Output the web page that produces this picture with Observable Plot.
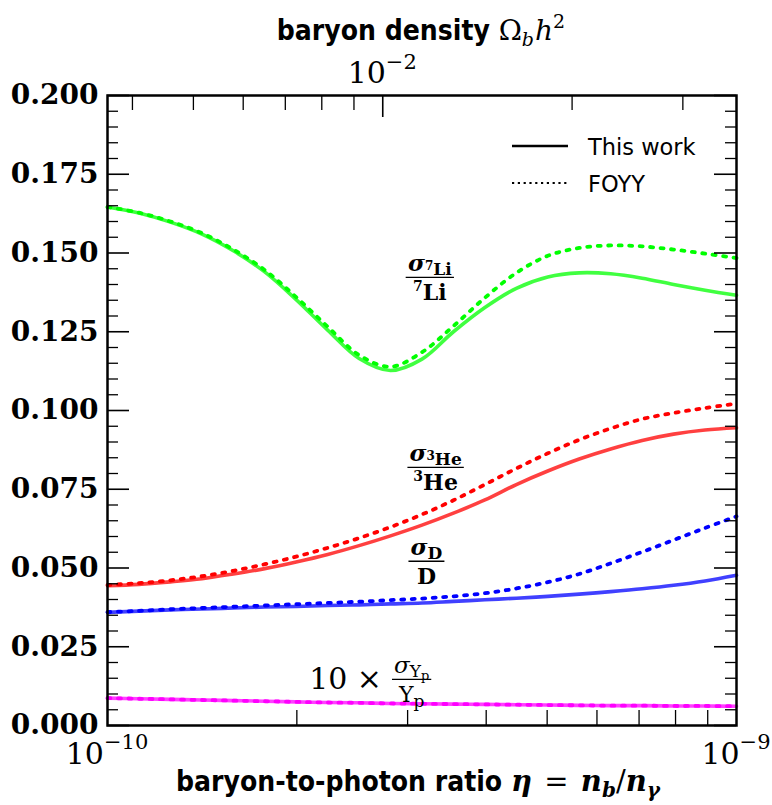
<!DOCTYPE html>
<html><head><meta charset="utf-8">
<script src="https://cdn.jsdelivr.net/npm/d3@7"></script>
<script src="https://cdn.jsdelivr.net/npm/@observablehq/plot@0.6"></script>
<style>
html,body{margin:0;padding:0;background:#fff;}
#chart{width:772px;height:805px;}
</style></head><body><div id="chart"></div>
<script>
// ---- data (eta in units of 1e-10) ----
const eta10 = [1.000,1.122,1.259,1.413,1.585,1.778,1.995,2.239,2.512,2.818,3.162,3.548,3.981,4.467,5.012,5.623,6.310,7.079,7.943,8.913,10.000];
const li7This = [0.1646,0.1627,0.1598,0.1560,0.1507,0.1440,0.1352,0.1255,0.1165,0.1127,0.1163,0.1250,0.1327,0.1388,0.1424,0.1437,0.1434,0.1420,0.1400,0.1382,0.1366];
const li7FOYY = [0.1646,0.1628,0.1600,0.1563,0.1511,0.1446,0.1360,0.1266,0.1176,0.1139,0.1185,0.1268,0.1358,0.1437,0.1491,0.1516,0.1524,0.1521,0.1511,0.1498,0.1484];
const he3This = [0.0444,0.0448,0.0456,0.0466,0.0481,0.0498,0.0519,0.0543,0.0571,0.0602,0.0636,0.0674,0.0716,0.0765,0.0808,0.0846,0.0878,0.0905,0.0925,0.0938,0.0945];
const he3FOYY = [0.0446,0.0452,0.0461,0.0474,0.0491,0.0512,0.0536,0.0564,0.0595,0.0630,0.0670,0.0715,0.0765,0.0816,0.0864,0.0907,0.0943,0.0973,0.0992,0.1008,0.1022];
const dThis = [0.0359,0.0363,0.0367,0.0370,0.0373,0.0376,0.0378,0.0381,0.0383,0.0386,0.0389,0.0394,0.0399,0.0404,0.0410,0.0417,0.0425,0.0434,0.0445,0.0459,0.0477];
const dFOYY = [0.0360,0.0364,0.0369,0.0373,0.0377,0.0381,0.0385,0.0389,0.0393,0.0398,0.0403,0.0410,0.0420,0.0435,0.0455,0.0481,0.0515,0.0551,0.0589,0.0627,0.0664];
const ypThis = [0.0087,0.0085,0.0083,0.0081,0.0079,0.0077,0.0075,0.0073,0.0072,0.0070,0.0069,0.0068,0.0067,0.0066,0.0065,0.0064,0.0063,0.0063,0.0062,0.0062,0.0061];
const ypFOYY = [0.0087,0.0085,0.0083,0.0081,0.0079,0.0077,0.0075,0.0073,0.0072,0.0070,0.0069,0.0068,0.0067,0.0066,0.0065,0.0064,0.0063,0.0063,0.0062,0.0062,0.0061];

// ---- ticks ----
const yMajorTicks = [0,0.025,0.05,0.075,0.1,0.125,0.15,0.175,0.2];
const yMinorTicks = [0.005,0.01,0.015,0.02,0.03,0.035,0.04,0.045,0.055,0.06,0.065,0.07,0.08,0.085,0.09,0.095,0.105,0.11,0.115,0.12,0.13,0.135,0.14,0.145,0.155,0.16,0.165,0.17,0.18,0.185,0.19,0.195];
const xMajorTicks = [1e-10,1e-9];
const xMajorLabels = ["\u221210","\u22129"];
const xMinorTicks = [2e-10,3e-10,4e-10,5e-10,6e-10,7e-10,8e-10,9e-10];
const omegaMinorTicks = [0.004,0.005,0.006,0.007,0.008,0.009,0.02,0.03];
const omegaMajorTicks = [0.01];
const omegaMajorLabels = ["\u22122"];
const etaPerOmega = 273.9e-10; // eta = 273.9e-10 * Omega_b h^2

// ---- build table ----
const series = [
  {key:"Li", kind:"This work", color:"#00ff00", values:li7This},
  {key:"Li", kind:"FOYY", color:"#00ff00", values:li7FOYY},
  {key:"He", kind:"This work", color:"#ff0000", values:he3This},
  {key:"He", kind:"FOYY", color:"#ff0000", values:he3FOYY},
  {key:"D", kind:"This work", color:"#0000ff", values:dThis},
  {key:"D", kind:"FOYY", color:"#0000ff", values:dFOYY},
  {key:"Yp", kind:"This work", color:"#ff00ff", values:ypThis},
  {key:"Yp", kind:"FOYY", color:"#ff00ff", values:ypFOYY}
];
const rows = [];
for (const s of series) s.values.forEach((v,i)=>rows.push({series:s.key+"-"+s.kind, key:s.key, kind:s.kind, color:s.color, eta:eta10[i]*1e-10, v}));
const solidRows = rows.filter(d=>d.kind==="This work");
const dotRows = rows.filter(d=>d.kind==="FOYY");

const W = 772, H = 805, mL = 107, mR = 36, mT = 95, mB = 80;
const innerW = W-mL-mR, innerH = H-mT-mB;
const serif = "'DejaVu Serif', serif";
const sansC = "'DejaVu Sans Condensed', 'DejaVu Sans', sans-serif";

const plot = Plot.plot({
  width: W, height: H,
  marginLeft: mL, marginRight: mR, marginTop: mT, marginBottom: mB,
  x: {type:"log", domain:[1e-10,1e-9], axis:null},
  y: {domain:[0,0.2], axis:null},
  style: {background:"#fff"},
  marks: [
    Plot.line(solidRows, {x:"eta", y:"v", z:"series", stroke:"color", strokeWidth:3.6, strokeOpacity:0.75, curve:"catmull-rom"}),
    Plot.line(dotRows, {x:"eta", y:"v", z:"series", stroke:"color", strokeWidth:3.8, strokeDasharray:"3,7.5", curve:"catmull-rom"}),
    // y ticks (inward), left and right
    Plot.tickY(yMajorTicks, {y:d=>d, stroke:"#000", strokeWidth:1.6, insetRight:innerW-22}),
    Plot.tickY(yMajorTicks, {y:d=>d, stroke:"#000", strokeWidth:1.6, insetLeft:innerW-22}),
    Plot.tickY(yMinorTicks, {y:d=>d, stroke:"#000", strokeWidth:1.3, insetRight:innerW-11}),
    Plot.tickY(yMinorTicks, {y:d=>d, stroke:"#000", strokeWidth:1.3, insetLeft:innerW-11}),
    // x ticks bottom
    Plot.tickX(xMinorTicks, {x:d=>d, stroke:"#000", strokeWidth:1.3, insetTop:innerH-15}),
    // top axis (Omega_b h^2)
    Plot.tickX(omegaMinorTicks, {x:d=>d*etaPerOmega, stroke:"#000", strokeWidth:1.3, insetBottom:innerH-15}),
    Plot.tickX(omegaMajorTicks, {x:d=>d*etaPerOmega, stroke:"#000", strokeWidth:1.6, insetBottom:innerH-22}),
    Plot.frame({stroke:"#000", strokeWidth:2.5}),
    // y tick labels
    Plot.text(yMajorTicks, {y:d=>d, text:d=>d3.format(".3f")(d), frameAnchor:"left", textAnchor:"end", dx:-9, dy:0,
      fontFamily:serif, fontWeight:"bold", fontSize:28, fill:"#000"})
  ]
});
document.getElementById("chart").appendChild(plot);

const sx = plot.scale("x"), sy = plot.scale("y");
const svg = d3.select(plot);
const g = svg.append("g").attr("class","math");

// rich text helper: parts = [{t, size, shift, style, weight, family}]
function rich(parent, x, y, parts, anchor="middle") {
  const t = parent.append("text").attr("x", x).attr("y", y).attr("text-anchor", anchor).attr("fill","#000");
  let cur = 0;
  for (const p of parts) {
    const sh = p.shift || 0;
    const ts = t.append("tspan").text(p.t)
      .attr("dy", (sh - cur))
      .attr("font-size", p.size)
      .attr("font-family", p.family || serif)
      .attr("font-style", p.style || "normal")
      .attr("font-weight", p.weight || "normal");
    if (p.stretch) ts.attr("font-stretch", p.stretch);
    if (p.dx) ts.attr("dx", p.dx);
    cur = sh;
  }
  return t;
}

// fraction helper
function frac(parent, cx, barY, num, den, lw=1.4) {
  const n = rich(parent, cx, barY-6, num);
  const d = rich(parent, cx, barY+23, den);
  const w = Math.max(n.node().getBBox().width, d.node().getBBox().width) + 4;
  parent.append("line").attr("x1", cx-w/2).attr("x2", cx+w/2).attr("y1", barY).attr("y2", barY)
    .attr("stroke","#000").attr("stroke-width", lw);
  return w;
}

// title top
rich(g, 421, 40, [
  {t:"baryon density ", size:28, weight:"bold", family:sansC, stretch:"condensed"},
  {t:"\u03A9", size:28},
  {t:"b", size:19, style:"italic", shift:6},
  {t:"h", size:28, style:"italic", shift:0, dx:1},
  {t:"2", size:19, shift:-12}
]);
// top major tick label
omegaMajorTicks.forEach((o,i)=>{
  rich(g, sx.apply(o*etaPerOmega), 83, [
    {t:"10", size:30},
    {t:omegaMajorLabels[i], size:21, shift:-14}
  ]);
});
// bottom tick labels
xMajorTicks.forEach((e,i)=>{
  rich(g, sx.apply(e), 764, [
    {t:"10", size:30},
    {t:xMajorLabels[i], size:21, shift:-15}
  ]);
});
// bottom title
rich(g, 418, 791, [
  {t:"baryon-to-photon ratio ", size:28, weight:"bold", family:sansC, stretch:"condensed"},
  {t:"\u03B7", size:29, style:"italic", weight:"bold"},
  {t:" = ", size:29, dx:3},
  {t:"n", size:29, style:"italic", weight:"bold", dx:3},
  {t:"b", size:20, style:"italic", weight:"bold", shift:6},
  {t:"/", size:29, shift:0},
  {t:"n", size:29, style:"italic", weight:"bold"},
  {t:"\u03B3", size:20, style:"italic", weight:"bold", shift:6}
]);

// curve labels (positions in data coordinates)
const labelLi = {eta:3.26e-10, v:0.1421};
const labelHe = {eta:3.33e-10, v:0.0818};
const labelD = {eta:3.22e-10, v:0.0520};
const labelYp = {eta:3.05e-10, v:0.0145};

frac(g, sx.apply(labelLi.eta), sy.apply(labelLi.v),
  [{t:"\u03C3", size:23, style:"italic", weight:"bold"},{t:"7", size:12, weight:"bold", shift:-1},{t:"Li", size:17, weight:"bold", shift:4}],
  [{t:"7", size:14, weight:"bold", shift:-9},{t:"Li", size:22, weight:"bold", shift:0}]);
frac(g, sx.apply(labelHe.eta), sy.apply(labelHe.v),
  [{t:"\u03C3", size:23, style:"italic", weight:"bold"},{t:"3", size:12, weight:"bold", shift:-1},{t:"He", size:17, weight:"bold", shift:4}],
  [{t:"3", size:14, weight:"bold", shift:-9},{t:"He", size:22, weight:"bold", shift:0}]);
frac(g, sx.apply(labelD.eta), sy.apply(labelD.v),
  [{t:"\u03C3", size:23, style:"italic", weight:"bold"},{t:"D", size:17, weight:"bold", shift:4}],
  [{t:"D", size:22, weight:"bold"}]);
// Yp label: "10 ×" then fraction
const ypX = sx.apply(labelYp.eta), ypY = sy.apply(labelYp.v);
const fw = frac(g, ypX, ypY,
  [{t:"\u03C3", size:23, style:"italic"},{t:"Y", size:17, shift:4},{t:"p", size:13, shift:7}],
  [{t:"Y", size:22},{t:"p", size:17, shift:5}]);
rich(g, ypX - fw/2 - 10, ypY + 10, [{t:"10 \u00D7", size:30}], "end");

// legend
const lg = svg.append("g").attr("class","legend");
lg.append("line").attr("x1",512).attr("x2",568).attr("y1",146).attr("y2",146).attr("stroke","#000").attr("stroke-width",2.6);
lg.append("line").attr("x1",512).attr("x2",568).attr("y1",183).attr("y2",183).attr("stroke","#000").attr("stroke-width",2.2).attr("stroke-dasharray","2.2,3.6");
rich(lg, 588, 155, [{t:"This work", size:22.5, family:"'DejaVu Sans', sans-serif"}], "start");
rich(lg, 588, 192, [{t:"FOYY", size:22.5, family:"'DejaVu Sans', sans-serif"}], "start");
</script></body></html>
